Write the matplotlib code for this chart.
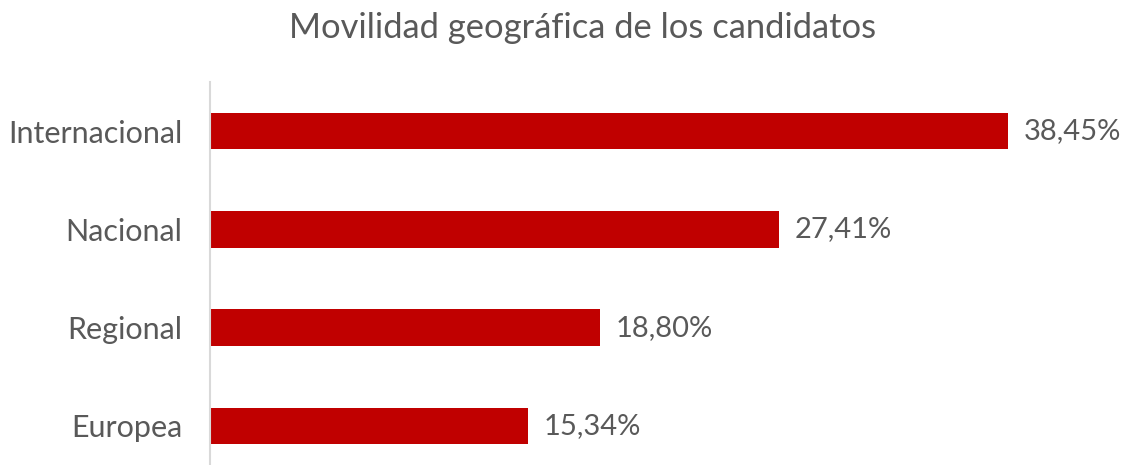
import matplotlib.pyplot as plt

plt.rcParams['font.family'] = ['Lato', 'DejaVu Sans']

categorias = ["Europea", "Regional", "Nacional", "Internacional"]
valores = [15.34, 18.80, 27.41, 38.45]
etiquetas = ["15,34%", "18,80%", "27,41%", "38,45%"]

gris = "#595959"
rojo = "#C00000"

fig = plt.figure(figsize=(11.28, 4.65), dpi=100)
ax = fig.add_axes([210 / 1128, 0, 1 - 210 / 1128, 383 / 465])

pos = range(len(categorias))
ax.barh(pos, valores, height=0.37, color=rojo)
for p, v, t in zip(pos, valores, etiquetas):
    ax.text(v + 0.75, p, t, va="center", ha="left", fontsize=21, color=gris)

ax.set_xlim(0, 918 / (798 / 38.45))
ax.set_ylim(-0.398, 3.5)
ax.set_yticks(list(pos))
ax.set_yticklabels(categorias, fontsize=22, color=gris)
ax.tick_params(axis="y", length=0, pad=20)
ax.set_xticks([])
for s in ["top", "right", "bottom"]:
    ax.spines[s].set_visible(False)
ax.spines["left"].set_color("#D9D9D9")
ax.spines["left"].set_linewidth(1.5)

fig.text(0.5164, 0.94, "Movilidad geográfica de los candidatos", ha="center", va="center",
         fontsize=24.8, color=gris)

fig.savefig("out.png", dpi=100)
